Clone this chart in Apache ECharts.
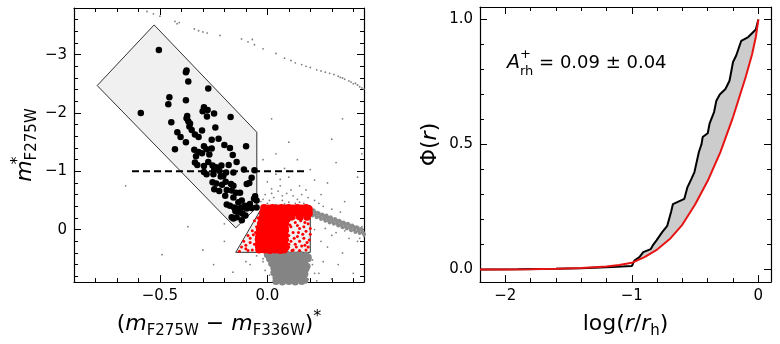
<!DOCTYPE html>
<html><head><meta charset="utf-8">
<script src="https://cdn.jsdelivr.net/npm/echarts@6/dist/echarts.min.js"></script>
<style>html,body{margin:0;padding:0;background:#fff}#c{width:780px;height:344px}</style>
</head><body><div id="c"></div>
<script>
// ---------------- DATA ----------------
// Left panel (CMD) axes
const cmdXRange = [-0.9, 0.45];
const cmdYRange = [-3.8, 0.9];
const cmdXTicks = [-0.5, 0.0];
const cmdXMinor = [-0.8,-0.7,-0.6,-0.4,-0.3,-0.2,-0.1,0.1,0.2,0.3,0.4];
const cmdYTicks = [-3,-2,-1,0];
const cmdYMinor = [-3.6,-3.4,-3.2,-2.8,-2.6,-2.4,-2.2,-1.8,-1.6,-1.4,-1.2,-0.8,-0.6,-0.4,-0.2,0.2,0.4,0.6,0.8];
// Right panel (cumulative) axes
const cdfXRange = [-2.2, 0.1];
const cdfYRange = [-0.05, 1.05];
const cdfXTicks = [-2,-1,0];
const cdfXMinor = [-1.8,-1.6,-1.4,-1.2,-0.8,-0.6,-0.4,-0.2];
const cdfYTicks = [0,0.5,1.0];
const cdfYMinor = [0.1,0.2,0.3,0.4,0.6,0.7,0.8,0.9];

// selection boxes (vertices in data units)
const bssBox = [[-0.527,-3.51],[-0.049,-1.67],[-0.049,-0.38],[-0.147,-0.03],[-0.792,-2.47]];
const refBox = [[-0.02,-0.41],[0.2,-0.41],[0.2,0.39],[-0.147,0.39]];
// dashed magnitude cut
const magCut = [[-0.63,-1.0],[0.18,-1.0]];

// Blue stragglers (black)
const bssStars = [
[-0.505,-3.08],[-0.376,-2.73],[-0.379,-2.70],[-0.368,-2.54],[-0.275,-2.42],[-0.456,-2.27],[-0.461,-2.15],[-0.379,-2.22],
[-0.589,-2.00],[-0.295,-2.10],[-0.278,-2.05],[-0.301,-2.03],[-0.248,-1.99],[-0.281,-1.94],[-0.373,-1.95],[-0.376,-1.91],
[-0.368,-1.86],[-0.360,-1.82],[-0.363,-1.77],[-0.352,-1.71],[-0.171,-1.93],[-0.447,-1.84],[-0.419,-1.67],[-0.404,-1.59],
[-0.379,-1.50],[-0.337,-1.63],[-0.320,-1.59],[-0.304,-1.70],[-0.242,-1.75],[-0.259,-1.54],[-0.227,-1.56],[-0.430,-1.38],
[-0.340,-1.37],[-0.320,-1.33],[-0.295,-1.43],[-0.283,-1.38],[-0.304,-1.31],[-0.332,-1.26],[-0.270,-1.29],[-0.259,-1.39],
[-0.200,-1.45],[-0.174,-1.40],[-0.099,-1.43],[-0.161,-1.28],[-0.337,-1.15],[-0.326,-1.11],[-0.295,-1.09],[-0.275,-1.16],
[-0.255,-1.10],[-0.239,-1.07],[-0.214,-1.10],[-0.180,-1.11],[-0.143,-1.16],[-0.247,-1.03],[-0.224,-1.01],[-0.295,-0.99],
[-0.283,-0.95],[-0.251,-0.95],[-0.217,-0.91],[-0.205,-0.92],[-0.192,-0.98],[-0.158,-0.98],[-0.109,-1.03],[-0.073,-0.89],
[-0.060,-1.02],[-0.255,-0.81],[-0.238,-0.79],[-0.211,-0.77],[-0.194,-0.82],[-0.169,-0.78],[-0.158,-0.75],[-0.247,-0.69],
[-0.224,-0.66],[-0.189,-0.68],[-0.166,-0.67],[-0.146,-0.63],[-0.127,-0.63],[-0.096,-0.78],[-0.084,-0.80],[-0.196,-0.58],
[-0.158,-0.55],[-0.135,-0.47],[-0.119,-0.50],[-0.189,-0.43],[-0.174,-0.41],[-0.155,-0.38],[-0.140,-0.36],[-0.119,-0.38],
[-0.104,-0.41],[-0.081,-0.44],[-0.062,-0.53],[-0.050,-0.50],[-0.057,-0.57],[-0.149,-0.32],[-0.127,-0.30],[-0.115,-0.27],
[-0.158,-0.19],[-0.143,-0.21],[-0.119,-0.16],[-0.096,-0.36],[-0.073,-0.37],[-0.050,-0.38],[-0.102,-0.24],[-0.166,-0.21]
];

// Reference population (red) – dense core and sparse outskirts
const refDense = [
[-0.015,-0.37],[0.005,-0.36],[0.025,-0.37],[0.045,-0.36],[0.065,-0.37],[0.083,-0.36],[0.10,-0.37],[0.12,-0.36],[0.14,-0.37],[0.16,-0.36],[0.18,-0.37],[0.193,-0.35],
[-0.02,-0.28],[0.0,-0.29],[0.02,-0.28],[0.043,-0.29],[0.063,-0.28],[0.082,-0.29],[0.10,-0.29],[0.12,-0.3],[0.14,-0.29],[0.16,-0.3],[0.18,-0.29],[0.193,-0.28],
[-0.025,-0.19],[-0.003,-0.2],[0.02,-0.19],[0.042,-0.2],[0.064,-0.19],[0.084,-0.2],[0.11,-0.22],[0.15,-0.23],[0.185,-0.22],
[-0.03,-0.1],[-0.006,-0.11],[0.017,-0.1],[0.04,-0.11],[0.062,-0.1],[0.083,-0.11],
[-0.035,-0.01],[-0.008,-0.02],[0.016,-0.01],[0.04,-0.02],[0.063,-0.01],[0.082,-0.02],
[-0.037,0.08],[-0.01,0.07],[0.015,0.08],[0.038,0.07],[0.062,0.08],[0.08,0.07],
[-0.04,0.17],[-0.012,0.16],[0.014,0.17],[0.038,0.16],[0.062,0.17],[0.081,0.16],
[-0.04,0.26],[-0.012,0.25],[0.013,0.26],[0.037,0.25],[0.061,0.26],[0.08,0.25],
[-0.038,0.34],[-0.012,0.34],[0.013,0.35],[0.037,0.34],[0.06,0.35],[0.078,0.34]
];
const refSparse = [
[0.10,-0.15],[0.13,-0.12],[0.16,-0.18],[0.19,-0.10],[0.11,-0.05],[0.15,-0.02],[0.18,0.03],[0.12,0.05],[0.10,0.10],[0.14,0.12],
[0.17,0.15],[0.195,0.18],[0.11,0.20],[0.13,0.25],[0.16,0.28],[0.19,0.30],[0.10,0.30],[0.12,0.35],[0.15,0.36],[0.18,0.35],
[0.095,0.02],[0.105,-0.08],[0.14,-0.07],[0.17,-0.05],[0.20,0.08],[0.165,0.08],[0.125,0.15],[0.15,0.20],[0.185,0.22],[0.10,0.25],
[0.135,0.30],[0.175,-0.12],[0.095,0.18],[0.115,0.36],[0.20,-0.02],[0.155,-0.15],[0.125,-0.20],[0.095,0.33],[0.145,0.05],[0.175,0.27],
[-0.06,-0.15],[-0.05,-0.05],[-0.07,0.02],[-0.09,0.10],[-0.05,0.12],[-0.11,0.20],[-0.08,0.22],[-0.06,0.25],[-0.12,0.30],[-0.10,0.33],
[-0.07,0.35],[-0.05,0.30],[-0.13,0.37],[-0.04,0.20],[-0.08,0.15],[-0.045,-0.20],[-0.055,0.05],[-0.10,0.27],[-0.09,0.36],[-0.065,0.09]
];

// Field/cluster stars (gray): dense main sequence, dense giant branch, sparse field
const fieldMS = [
[0.0,0.43],[0.03,0.42],[0.06,0.43],[0.09,0.42],[0.12,0.43],[0.15,0.42],[0.18,0.44],
[0.015,0.47],[0.045,0.46],[0.075,0.47],[0.105,0.46],[0.135,0.47],[0.165,0.46],[0.19,0.47],
[0.01,0.5],[0.04,0.51],[0.07,0.5],[0.1,0.51],[0.13,0.5],[0.16,0.51],[0.19,0.5],
[0.025,0.55],[0.055,0.54],[0.085,0.55],[0.115,0.54],[0.145,0.55],[0.175,0.54],
[0.02,0.58],[0.05,0.59],[0.08,0.58],[0.11,0.59],[0.14,0.58],[0.17,0.59],
[0.035,0.62],[0.065,0.63],[0.095,0.62],[0.125,0.63],[0.155,0.62],[0.185,0.63],
[0.03,0.66],[0.06,0.67],[0.09,0.66],[0.12,0.67],[0.15,0.66],[0.18,0.67],
[0.045,0.7],[0.075,0.71],[0.105,0.7],[0.135,0.71],[0.165,0.7],
[0.03,0.74],[0.06,0.75],[0.09,0.74],[0.12,0.75],[0.15,0.74],[0.175,0.76],
[0.05,0.78],[0.08,0.79],[0.11,0.78],[0.14,0.79],[0.17,0.78],
[0.04,0.82],[0.07,0.83],[0.1,0.82],[0.13,0.83],[0.16,0.82],
[0.055,0.86],[0.085,0.86],[0.115,0.87],[0.145,0.86],[0.175,0.87],
[0.04,0.89],[0.07,0.9],[0.1,0.89],[0.13,0.9],[0.16,0.89]
];
const fieldRGB = [
[0.20,-0.33],[0.21,-0.24],[0.22,-0.30],[0.23,-0.21],[0.24,-0.27],[0.25,-0.18],[0.26,-0.24],[0.27,-0.15],[0.28,-0.21],
[0.29,-0.12],[0.30,-0.18],[0.31,-0.10],[0.32,-0.16],[0.33,-0.07],[0.34,-0.13],[0.35,-0.04],[0.36,-0.10],[0.37,-0.02],
[0.38,-0.08],[0.39,0.01],[0.40,-0.05],[0.41,0.04],[0.42,-0.03],[0.43,0.06],[0.44,0.0],[0.45,0.08],
[0.205,-0.28],[0.215,-0.33],[0.225,-0.25],[0.235,-0.29],[0.245,-0.22],[0.255,-0.26],[0.265,-0.19],[0.275,-0.24],
[0.285,-0.16],[0.295,-0.21],[0.305,-0.13],[0.315,-0.18],[0.325,-0.11],[0.335,-0.15],[0.345,-0.08],[0.355,-0.12],
[0.365,-0.05],[0.375,-0.10],[0.385,-0.03],[0.395,-0.07],[0.405,0.0],[0.415,-0.04],[0.425,0.02],[0.435,-0.01],[0.445,0.05]
];
const fieldSparse = [
[-0.56,-3.74],[-0.53,-3.70],[-0.50,-3.66],[-0.43,-3.57],[-0.42,-3.53],[-0.41,-3.55],[-0.34,-3.44],[-0.32,-3.41],[-0.30,-3.39],
[-0.28,-3.37],[-0.22,-3.33],[-0.12,-3.27],[-0.09,-3.22],[-0.07,-3.26],[-0.06,-3.17],[-0.02,-3.10],[0.04,-3.02],[0.08,-2.94],
[0.11,-2.90],[0.13,-2.86],[0.16,-2.83],[0.18,-2.80],[0.20,-2.78],[0.23,-2.74],[0.25,-2.72],[0.27,-2.70],[0.29,-2.68],
[0.31,-2.66],[0.33,-2.63],[0.35,-2.60],[0.36,-2.58],[0.38,-2.55],[0.39,-2.53],[0.41,-2.51],[0.42,-2.48],[0.43,-2.45],
[0.44,-2.43],[0.45,-2.41],[0.34,-2.61],[0.40,-2.50],
[-0.66,-0.75],[-0.37,-0.05],[-0.49,0.43],[-0.25,0.60],[-0.16,0.73],[-0.08,0.60],[0.32,-1.15],[0.20,-1.03],[0.06,-0.86],
[0.0,-0.82],[0.02,-0.70],[0.05,-0.66],[0.09,-0.62],[0.12,-0.58],[0.03,-0.55],[-0.01,-0.60],[0.07,-0.50],[0.10,-0.47],
[0.14,-0.52],[0.17,-0.45],[-0.03,-0.48],[0.0,-0.45],[0.04,-0.43],[0.22,-0.50],[0.26,-0.40],[0.25,-0.60],[0.36,-0.48],
[0.28,0.30],[0.35,0.40],[0.33,0.60],[0.26,0.55],[0.24,0.75],[0.40,0.75],[0.30,0.85],[0.42,0.20],[0.38,0.15],[-0.20,-0.10],
[-0.10,0.55],[-0.05,0.45],[-0.02,0.50],[0.10,-0.90],[0.15,-0.75],[0.18,-0.68],[0.08,-1.05],[-0.02,-1.20],[0.04,-1.30],
[0.14,-1.20],[0.22,-0.85],[0.28,-0.80],[0.42,-0.90],[0.30,-1.55],[0.10,-1.50],[0.02,-1.90],[0.44,-1.30],[0.35,-1.90],
[-0.20,0.20],[-0.30,0.35],[0.21,0.60],[0.22,0.75],[0.25,0.20],[0.22,0.0],[0.30,0.10],[-0.02,0.55],[0.20,0.45],[0.19,0.85],
[-0.01,0.70],[0.21,0.52],[0.23,0.88],[0.01,0.78],[0.02,-0.62],[0.06,-0.75],[0.11,-0.68],[0.13,-0.45],[0.08,-0.44],[-0.02,-0.52],
[0.16,-0.60],[0.04,-0.95],[0.12,-1.0],[0.19,-0.55],[0.07,-0.58],[0.01,-0.50],[0.15,-0.47],[0.45,0.12],[0.43,0.15],[0.44,-0.05],
[0.32,0.05],[0.36,0.02],[0.27,-0.02],[0.30,-0.35],[0.34,-0.30],[0.24,-0.45]
];

// Right panel: cumulative radial distributions
const bssCdf = [[-2.2,0],[-1.9,0.001],[-1.6,0.003],[-1.4,0.005],[-1.2,0.009],[-1.0,0.014],[-0.985,0.015],[-0.98,0.036],
[-0.94,0.05],[-0.91,0.07],[-0.85,0.082],[-0.83,0.1],[-0.805,0.117],[-0.76,0.15],[-0.72,0.175],[-0.69,0.23],[-0.675,0.262],
[-0.585,0.283],[-0.56,0.33],[-0.53,0.362],[-0.505,0.39],[-0.47,0.47],[-0.45,0.5],[-0.44,0.53],[-0.4,0.545],[-0.385,0.585],
[-0.35,0.63],[-0.332,0.675],[-0.305,0.7],[-0.26,0.722],[-0.228,0.755],[-0.2,0.83],[-0.175,0.856],[-0.135,0.915],
[-0.08,0.93],[-0.05,0.945],[-0.02,0.96],[0,1.0]];
const refCdf = [[-2.2,0],[-2.0,0.0005],[-1.8,0.001],[-1.6,0.003],[-1.4,0.006],[-1.2,0.012],[-1.1,0.018],[-1.0,0.027],
[-0.9,0.05],[-0.8,0.08],[-0.7,0.122],[-0.6,0.18],[-0.5,0.26],[-0.4,0.355],[-0.3,0.47],[-0.2,0.61],[-0.1,0.77],
[-0.05,0.86],[-0.02,0.93],[0.0,1.0]];
const aLabel = '0.09 ± 0.04';

// ---------------- CHART ----------------
const FF = 'DejaVu Sans';
const minus = v => (v < 0 ? '\u2212' : '') + Math.abs(v);
const fmt1 = v => (v < 0 ? '\u2212' : '') + Math.abs(v).toFixed(1);
const fmt0 = v => (v < 0 ? '\u2212' : '') + Math.abs(v).toFixed(0);
const richName = {
  m: {fontStyle:'italic', fontSize:22, lineHeight:30, fontFamily:FF, color:'#000'},
  s: {fontSize:15, lineHeight:17, verticalAlign:'bottom', fontFamily:FF, color:'#000'},
  p: {fontSize:16, lineHeight:17, verticalAlign:'top', fontFamily:FF, color:'#000'},
  pz:{fontSize:16, lineHeight:17, verticalAlign:'top', width:0, fontFamily:FF, color:'#000'}
};
const nameStyle = {fontSize:22, lineHeight:30, fontFamily:FF, color:'#000', rich:richName};

function axisSet(dim, grid, range, ticks, minor, fmt, name, nameGap, inverse) {
  const pos = dim === 'x' ? ['bottom','top'] : ['left','right'];
  const base = {type:'value', gridIndex:grid, min:range[0], max:range[1], inverse:!!inverse,
    splitLine:{show:false}, minorTick:{show:false}};
  const out = [];
  pos.forEach((p, k) => {
    out.push(Object.assign({}, base, {
      position:p,
      axisLine:{show:true, onZero:false, lineStyle:{color:'#000', width:1.2}},
      axisTick:{show:true, inside:true, length:7, customValues:ticks, lineStyle:{color:'#000', width:1}},
      axisLabel:{show:k===0, customValues:ticks, formatter:fmt, fontFamily:FF, fontSize:15, color:'#000', margin:7},
      name: k===0 ? name : '', nameLocation:'middle', nameGap:nameGap, nameTextStyle:nameStyle
    }));
    out.push(Object.assign({}, base, {
      position:p,
      axisLine:{show:false, onZero:false},
      axisTick:{show:true, inside:true, length:4, customValues:minor, lineStyle:{color:'#000', width:1}},
      axisLabel:{show:false}
    }));
  });
  return out;
}

const xAxes = [].concat(
  axisSet('x', 0, cmdXRange, cmdXTicks, cmdXMinor, fmt1, '({m|m}{s|F275W} \u2212 {m|m}{s|F336W}){p|*}', 24, false),
  axisSet('x', 1, cdfXRange, cdfXTicks, cdfXMinor, fmt0, 'log({m|r}/{m|r}{s|h})', 24, false)
);
const yAxes = [].concat(
  axisSet('y', 0, cmdYRange, cmdYTicks, cmdYMinor, minus, '{m|m}{pz|*}{s|F275W}', 34, true),
  axisSet('y', 1, cdfYRange, cdfYTicks, cdfYMinor, fmt1, 'Φ({m|r})', 33, false)
);

function polyItem(polys, fill, stroke) {
  return function (params, api) {
    const pts = polys[params.dataIndex].map(p => api.coord(p));
    return {type:'polygon', shape:{points:pts}, style:{fill:fill, stroke:stroke, lineWidth:1}};
  };
}
const boxes = [bssBox, refBox];
const gapPoly = [bssCdf.filter(p => p[0] >= -1).concat(refCdf.filter(p => p[0] >= -1).slice().reverse())];
const dot = (c) => ({color:c, opacity:1});

const chart = echarts.init(document.getElementById('c'), null, {renderer:'canvas'});
chart.setOption({
  animation:false,
  backgroundColor:'#fff',
  grid:[
    {left:74, top:8, width:290, height:276, containLabel:false},
    {left:480, top:7, width:291, height:277, containLabel:false}
  ],
  xAxis:xAxes,
  yAxis:yAxes,
  graphic:[{
    type:'text', x:507, y:48, z:100,
    style:{
      text:'{a|A}{p|+}{r|rh}{t| = ' + aLabel + '}',
      align:'left', verticalAlign:'top',
      rich:{
        a:{fontStyle:'italic', fontSize:19, lineHeight:30, fontFamily:FF, fill:'#000'},
        p:{fontSize:13, lineHeight:15, verticalAlign:'top', width:0, fontFamily:FF, fill:'#000'},
        r:{fontSize:13, lineHeight:15, verticalAlign:'bottom', fontFamily:FF, fill:'#000'},
        t:{fontSize:18, lineHeight:30, fontFamily:FF, fill:'#000'}
      }
    }
  }],
  series:[
    {type:'custom', xAxisIndex:0, yAxisIndex:0, z:1, data:boxes.map(b => b[0]),
      renderItem:polyItem(boxes, '#f0f0f0', '#333')},
    {type:'scatter', xAxisIndex:0, yAxisIndex:0, z:2, data:fieldSparse, symbolSize:1.8,
      itemStyle:dot('#7f7f7f'), silent:true},
    {type:'scatter', xAxisIndex:0, yAxisIndex:0, z:2, data:fieldMS, symbolSize:7,
      itemStyle:dot('#858585'), silent:true},
    {type:'scatter', xAxisIndex:0, yAxisIndex:0, z:2, data:fieldRGB, symbolSize:4,
      itemStyle:dot('#8c8c8c'), silent:true},
    {type:'scatter', xAxisIndex:0, yAxisIndex:0, z:3, data:bssStars, symbolSize:6.5,
      itemStyle:dot('#000'), silent:true},
    {type:'scatter', xAxisIndex:0, yAxisIndex:0, z:3, data:refDense, symbolSize:8,
      itemStyle:dot('#ff0000'), silent:true},
    {type:'scatter', xAxisIndex:0, yAxisIndex:0, z:3, data:refSparse, symbolSize:3,
      itemStyle:dot('#ff0000'), silent:true},
    {type:'line', xAxisIndex:0, yAxisIndex:0, z:4, data:magCut, symbol:'none',
      lineStyle:{color:'#000', width:2, type:[7,4]}, silent:true},
    {type:'custom', xAxisIndex:4, yAxisIndex:4, z:1, data:gapPoly.map(b => b[0]),
      renderItem:polyItem(gapPoly, '#cccccc', 'none')},
    {type:'line', xAxisIndex:4, yAxisIndex:4, z:3, data:bssCdf, symbol:'none',
      lineStyle:{color:'#000', width:2}, silent:true},
    {type:'line', xAxisIndex:4, yAxisIndex:4, z:4, data:refCdf, symbol:'none',
      lineStyle:{color:'#e81414', width:2}, silent:true}
  ]
});
</script></body></html>
